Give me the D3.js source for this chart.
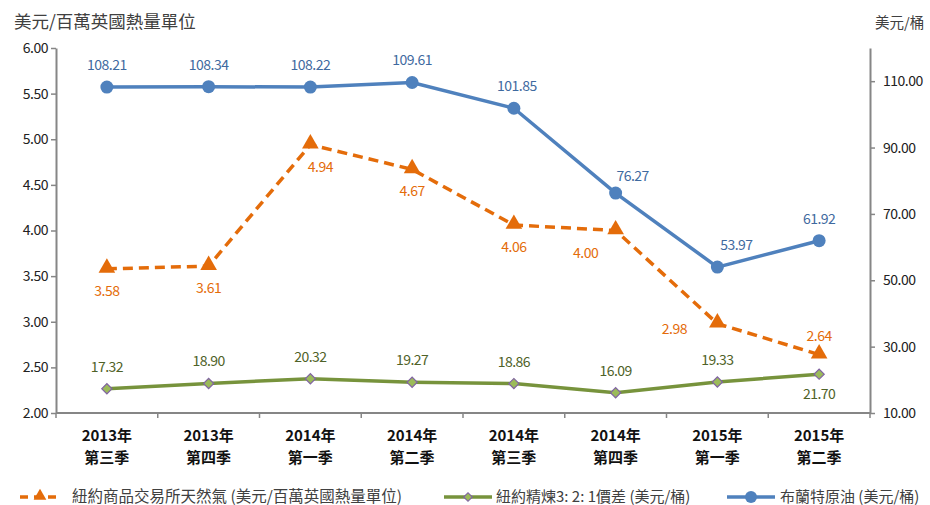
<!DOCTYPE html>
<meta charset="utf-8">
<script src="https://d3js.org/d3.v7.min.js"></script>
<style>
  body { margin: 0; background: #fff; }
  text { font-family: "Noto Sans CJK TC", "Noto Sans", sans-serif; }
</style>
<div id="chart"></div>
<script>
// data
var years = ["2013年", "2013年", "2014年", "2014年", "2014年", "2014年", "2015年", "2015年"];
var quarters = ["第三季", "第四季", "第一季", "第二季", "第三季", "第四季", "第一季", "第二季"];
var gas = [3.58, 3.61, 4.94, 4.67, 4.06, 4.00, 2.98, 2.64];      // left axis
var spread = [17.32, 18.90, 20.32, 19.27, 18.86, 16.09, 19.33, 21.70]; // right axis
var brent = [108.21, 108.34, 108.22, 109.61, 101.85, 76.27, 53.97, 61.92]; // right axis
var leftTicks = [2.0, 2.5, 3.0, 3.5, 4.0, 4.5, 5.0, 5.5, 6.0];
var rightTicks = [10, 30, 50, 70, 90, 110];

// label placement (dx, dy) relative to each point
var gasLabelPos = [[0, 22], [0, 22], [10, 22], [0, 22], [0, 22], [-30, 23], [-43, 6], [0, -19]];
var spreadLabelPos = [[0, -22], [0, -22], [0, -22], [0, -22], [0, -22], [0, -22], [0, -22], [0, 20]];
var brentLabelPos = [[0, -22], [0, -22], [0, -22], [0, -22], [3, -22], [17, -17], [19, -22], [0, -22]];

var W = 930, H = 505;
var m = {left: 56, right: 870, top: 48, bottom: 413};

var svg = d3.select("#chart").append("svg")
    .attr("width", W).attr("height", H);

var idx = d3.range(years.length);
var x = d3.scaleBand().domain(idx).range([m.left, m.right]);
var cx = function(i) { return x(i) + x.bandwidth() / 2; };
var yL = d3.scaleLinear().domain([2, 6]).range([m.bottom, m.top]);
var yR = d3.scaleLinear().domain([10, 120]).range([m.bottom, m.top]);

var axisColor = "#868686";

// left axis
var gl = svg.append("g").attr("transform", "translate(" + m.left + ",0)")
    .call(d3.axisLeft(yL).tickValues(leftTicks).tickFormat(d3.format(".2f")).tickSize(5).tickSizeOuter(0));
// right axis
var gr = svg.append("g").attr("transform", "translate(" + m.right + ",0)")
    .call(d3.axisRight(yR).tickValues(rightTicks).tickFormat(d3.format(".2f")).tickSize(5).tickSizeOuter(0));
[gl, gr].forEach(function(g) {
  g.select(".domain").attr("stroke", axisColor).attr("stroke-width", 2);
  g.selectAll(".tick line").attr("stroke", axisColor).attr("stroke-width", 1.5);
  g.selectAll(".tick text").attr("font-size", 14).attr("fill", "#222")
    .attr("font-family", "'Open Sans', 'Noto Sans', sans-serif").style("letter-spacing", "-0.5px");
});
gr.selectAll(".tick text").attr("x", 13);

// x axis: line with ticks at band boundaries
var gx = svg.append("g");
gx.append("line").attr("x1", m.left).attr("x2", m.right).attr("y1", m.bottom).attr("y2", m.bottom)
  .attr("stroke", axisColor).attr("stroke-width", 2);
gx.selectAll("line.tk").data(d3.range(years.length + 1)).enter().append("line")
  .attr("class", "tk")
  .attr("x1", function(d) { return m.left + d * x.bandwidth(); })
  .attr("x2", function(d) { return m.left + d * x.bandwidth(); })
  .attr("y1", m.bottom).attr("y2", m.bottom + 5)
  .attr("stroke", axisColor).attr("stroke-width", 1.5);
var xl = gx.selectAll("text.xl").data(idx).enter().append("text")
  .attr("class", "xl")
  .attr("text-anchor", "middle")
  .attr("font-size", 15).attr("font-weight", "bold").attr("fill", "#111");
xl.append("tspan").attr("x", cx).attr("y", m.bottom + 28).text(function(i) { return years[i]; });
xl.append("tspan").attr("x", cx).attr("y", m.bottom + 50).text(function(i) { return quarters[i]; });

// axis titles
svg.append("text").attr("x", 14).attr("y", 28).attr("font-size", 17.5).attr("fill", "#404040")
  .text("美元/百萬英國熱量單位");
svg.append("text").attr("x", 875).attr("y", 28).attr("font-size", 14.5).attr("fill", "#404040")
  .text("美元/桶");

var orange = "#e46c0a", green = "#77933c", blue = "#4f81bd";

// series
function drawLine(vals, yScale, color, dash, width) {
  svg.append("path").datum(vals)
    .attr("fill", "none").attr("stroke", color).attr("stroke-width", width)
    .attr("stroke-dasharray", dash)
    .attr("d", d3.line().x(function(d, i) { return cx(i); }).y(function(d) { return yScale(d); }));
}
drawLine(spread, yR, green, null, 3.5);
drawLine(gas, yL, orange, "10,6", 3.5);
drawLine(brent, yR, blue, null, 3.5);

var tri = d3.symbol().type(d3.symbolTriangle).size(120);
var dia = d3.symbol().type(d3.symbolSquare).size(52);

svg.selectAll("path.sp").data(spread).enter().append("path").attr("class", "sp")
  .attr("d", dia).attr("fill", "#9bbb59").attr("stroke", "#8064a2").attr("stroke-width", 1.2)
  .attr("transform", function(d, i) { return "translate(" + cx(i) + "," + yR(d) + ") rotate(45)"; });
svg.selectAll("path.gs").data(gas).enter().append("path").attr("class", "gs")
  .attr("d", tri).attr("fill", orange)
  .attr("transform", function(d, i) { return "translate(" + cx(i) + "," + (yL(d) - 1) + ")"; });
svg.selectAll("circle.br").data(brent).enter().append("circle").attr("class", "br")
  .attr("cx", function(d, i) { return cx(i); }).attr("cy", function(d) { return yR(d); })
  .attr("r", 6.5).attr("fill", blue);

// data labels
function drawLabels(vals, yScale, pos, color) {
  svg.append("g").selectAll("text").data(vals).enter().append("text")
    .attr("x", function(d, i) { return cx(i) + pos[i][0]; })
    .attr("y", function(d, i) { return yScale(d) + pos[i][1]; })
    .attr("dy", "0.35em").attr("text-anchor", "middle")
    .attr("font-size", 14).attr("fill", color)
    .attr("font-family", "'Open Sans', 'Noto Sans', sans-serif").style("letter-spacing", "-0.5px")
    .text(function(d) { return d.toFixed(2); });
}
drawLabels(gas, yL, gasLabelPos, orange);
drawLabels(spread, yR, spreadLabelPos, "#4f6228");
drawLabels(brent, yR, brentLabelPos, "#3f6aa0");

// legend
var ly = 497;
var lg = svg.append("g");
lg.append("line").attr("x1", 20).attr("x2", 61).attr("y1", ly).attr("y2", ly)
  .attr("stroke", orange).attr("stroke-width", 3.5).attr("stroke-dasharray", "8,6");
lg.append("path").attr("d", d3.symbol().type(d3.symbolTriangle).size(70)).attr("fill", orange)
  .attr("transform", "translate(40," + (ly - 1) + ")");
lg.append("text").attr("x", 72).attr("y", ly).attr("dy", "0.35em").attr("font-size", 15.5).attr("fill", "#404040")
  .text("紐約商品交易所天然氣 (美元/百萬英國熱量單位)");
lg.append("line").attr("x1", 444).attr("x2", 492).attr("y1", ly).attr("y2", ly)
  .attr("stroke", green).attr("stroke-width", 3.5);
lg.append("path").attr("d", d3.symbol().type(d3.symbolSquare).size(36)).attr("fill", "#9bbb59")
  .attr("stroke", "#8064a2").attr("stroke-width", 1.2)
  .attr("transform", "translate(468," + ly + ") rotate(45)");
lg.append("text").attr("x", 496).attr("y", ly).attr("dy", "0.35em").attr("font-size", 15).attr("fill", "#404040")
  .text("紐約精煉3: 2: 1價差 (美元/桶)");
lg.append("line").attr("x1", 727).attr("x2", 775).attr("y1", ly).attr("y2", ly)
  .attr("stroke", blue).attr("stroke-width", 3.5);
lg.append("circle").attr("cx", 751).attr("cy", ly).attr("r", 6).attr("fill", blue);
lg.append("text").attr("x", 780).attr("y", ly).attr("dy", "0.35em").attr("font-size", 15).attr("fill", "#404040")
  .text("布蘭特原油 (美元/桶)");
</script>
